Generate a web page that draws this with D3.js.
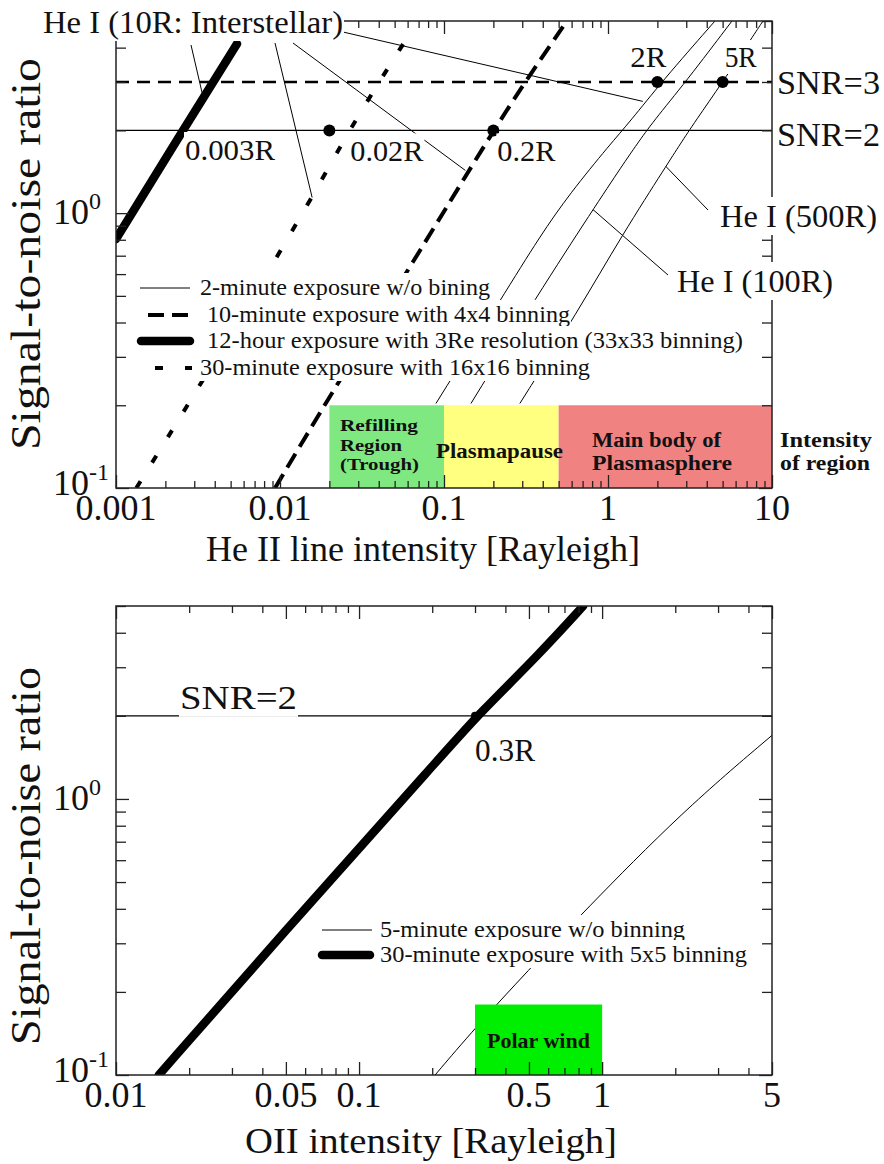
<!DOCTYPE html>
<html>
<head>
<meta charset="utf-8">
<script src="https://cdn.jsdelivr.net/npm/d3@7"></script>
<style>
  html, body { margin: 0; padding: 0; background: #fff; }
  svg { display: block; }
  text { fill: #111; }
</style>
</head>
<body>
<svg id="fig" width="884" height="1164"></svg>
<script>
// ---------------- He II panel (upper) ----------------
const heIIXDomain = [0.001, 10];
const snrDomain = [0.1, 5];
const heIIXLabelValues = [0.001, 0.01, 0.1, 1, 10];
const heIIXLabels = ["0.001", "0.01", "0.1", "1", "10"];
const snrLabelValues = [0.1, 1];
const snrLabelExponents = ["-1", "0"];

// [intensity (R), SNR]
const heII_2min_10R  = [[0.0893,0.203],[0.229,0.50],[0.385,0.825],[0.586,1.18],[1.03,1.78],[1.36,2.15],[2.13,3.01],[4.49,5.0]];
const heII_2min_100R = [[0.146,0.203],[0.369,0.50],[0.81,1.03],[1.23,1.50],[1.50,1.78],[1.88,2.15],[2.99,3.01],[5.70,5.0]];
const heII_2min_500R = [[0.29,0.203],[0.647,0.434],[1.23,0.84],[2.29,1.50],[2.75,1.78],[3.39,2.15],[5.02,3.01],[7.34,4.24],[8.81,5.0]];
const heII_10min_4x4 = [[0.00933,0.1],[0.0216,0.232],[0.0638,0.653],[0.2,2.0],[0.344,3.27],[0.562,5.0]];
const heII_12h_33x33 = [[0.001,0.805],[0.00256,2.0],[0.00547,4.13]];
const heII_30min_16x16 = [[0.00133,0.1],[0.00312,0.2265],[0.0157,1.13],[0.0259,1.98],[0.0617,4.49]];

const heIIThresholds = [3, 2];
const heIIDetections = [[0.02, 2], [0.2, 2], [2, 3], [5, 3]];
const heIIRegions = [
  { lines: ["Refilling", "Region", "(Trough)"], from: 0.02, to: 0.1, top: 0.2, color: "#80e880" },
  { lines: ["Plasmapause"], from: 0.1, to: 0.5, top: 0.2, color: "#ffff80" },
  { lines: ["Main body of", "Plasmasphere"], from: 0.5, to: 10, top: 0.2, color: "#f08282" }
];
const heIILegendLabels = [
  "2-minute exposure w/o bining",
  "10-minute exposure with 4x4 binning",
  "12-hour exposure with 3Re resolution (33x33 binning)",
  "30-minute exposure with 16x16 binning"
];

// ---------------- OII panel (lower) ----------------
const oiiXDomain = [0.01, 5];
const oiiXLabelValues = [0.01, 0.05, 0.1, 0.5, 1, 5];
const oiiXLabels = ["0.01", "0.05", "0.1", "0.5", "1", "5"];
const oii_5min = [[0.2055,0.1],[0.300,0.148],[0.496,0.239],[0.835,0.388],[2.15,0.905],[5.0,1.70]];
const oii_30min_5x5 = [[0.0150,0.1],[0.0447,0.3],[0.237,1.55],[0.306,2.0],[0.556,3.37],[0.836,5.0]];
const oiiThresholds = [2];
const oiiDetections = [[0.3, 2]];
const oiiRegions = [{ lines: ["Polar wind"], from: 0.3, to: 1.0, top: 0.18, color: "#00ee00" }];
const oiiLegendLabels = ["5-minute exposure w/o binning", "30-minute exposure with 5x5 binning"];

// ---------------- line styles ----------------
const styles = {
  thin:   { w: 1,   dash: null,   cap: "butt" },
  dashed: { w: 4,   dash: "16,8", cap: "butt" },
  thick:  { w: 8.5, dash: null,   cap: "round" },
  dotted: { w: 4,   dash: "8,22", cap: "butt" }
};

// Pick the first installed Times-like face (falls back to generic serif).
function pickFont(cands) {
  const c = document.createElement("canvas").getContext("2d");
  const s = "Signal-to-noise ratio 0123456789 Rayleigh";
  const w = f => { c.font = "40px " + f; return c.measureText(s).width; };
  const mono = w("monospace"), sans = w("sans-serif");
  for (const f of cands) {
    const a = w(`"${f}", monospace`), b = w(`"${f}", sans-serif`);
    if (Math.abs(a - b) < 0.01 && (Math.abs(a - mono) > 0.01 || Math.abs(b - sans) > 0.01)) return f;
  }
  return null;
}
const face = pickFont(["Liberation Serif", "Times New Roman", "Times", "Nimbus Roman", "Nimbus Roman No9 L", "FreeSerif", "Tinos"]);

const svg = d3.select("#fig").attr("font-family", (face ? `"${face}", ` : "") + "serif");

function addText(g, s, x, y, o = {}) {
  const t = g.append("text").attr("x", x).attr("y", y).text(s)
    .attr("font-size", o.size || 32)
    .attr("text-anchor", o.anchor || "start");
  if (o.weight) t.attr("font-weight", o.weight);
  if (o.len) t.attr("textLength", o.len).attr("lengthAdjust", "spacingAndGlyphs");
  if (o.transform) t.attr("transform", o.transform);
  if (o.bg) {
    const b = t.node().getBBox(), p = o.pad == null ? 2 : o.pad;
    g.insert("rect", () => t.node())
      .attr("x", b.x - p).attr("y", b.y - p)
      .attr("width", b.width + 2 * p).attr("height", b.height + 2 * p)
      .attr("fill", "#fff");
  }
  return t;
}

function strokeStyle(sel, st) {
  sel.attr("fill", "none").attr("stroke", "#000")
    .attr("stroke-width", st.w).attr("stroke-linecap", st.cap);
  if (st.dash) sel.attr("stroke-dasharray", st.dash);
  return sel;
}

function frameAndAxes(g, x, y, majorX, xLabelVals, xLabels) {
  const [xl, xr] = x.range(), [yb, yt] = y.range();
  const near = (a, b) => Math.abs(a / b - 1) < 1e-6;
  const xAll = x.ticks().filter(v => v >= x.domain()[0] && v <= x.domain()[1]);
  const xMajor = xAll.filter(v => majorX.some(m => near(m, v)));
  const xMinor = xAll.filter(v => !majorX.some(m => near(m, v)));
  const yAll = y.ticks();
  const yMajor = yAll.filter(v => near(v, 0.1) || near(v, 1));
  const yMinor = yAll.filter(v => !(near(v, 0.1) || near(v, 1)));

  const tickGroup = g.append("g").attr("color", "#222");
  const put = (axis, tr) => tickGroup.append("g").attr("transform", tr)
    .call(axis).call(a => a.select(".domain").remove())
    .call(a => a.selectAll("line").attr("stroke-width", 1.3));

  put(d3.axisBottom(x).tickValues(xMinor).tickSize(-7).tickFormat(""), `translate(0,${yb})`);
  put(d3.axisBottom(x).tickValues(xMajor).tickSize(-13).tickFormat(""), `translate(0,${yb})`);
  put(d3.axisTop(x).tickValues(xMinor).tickSize(-7).tickFormat(""), `translate(0,${yt})`);
  put(d3.axisTop(x).tickValues(xMajor).tickSize(-13).tickFormat(""), `translate(0,${yt})`);
  put(d3.axisLeft(y).tickValues(yMinor).tickSize(-10).tickFormat(""), `translate(${xl},0)`);
  put(d3.axisLeft(y).tickValues(yMajor).tickSize(-13).tickFormat(""), `translate(${xl},0)`);
  put(d3.axisRight(y).tickValues(yMinor).tickSize(-10).tickFormat(""), `translate(${xr},0)`);
  put(d3.axisRight(y).tickValues(yMajor).tickSize(-13).tickFormat(""), `translate(${xr},0)`);

  g.append("rect").attr("x", xl).attr("y", yt).attr("width", xr - xl).attr("height", yb - yt)
    .attr("fill", "none").attr("stroke", "#222").attr("stroke-width", 1.5);

  // tick labels
  xLabelVals.forEach((v, i) => addText(g, xLabels[i], x(v), yb + 32, { size: 36, anchor: "middle" }));
  snrLabelValues.forEach((v, i) => {
    const t = g.append("text").attr("x", 53).attr("y", y(v) + (v < 1 ? 7 : 11)).attr("font-size", 36);
    t.append("tspan").text("10");
    t.append("tspan").attr("font-size", 24).attr("dy", -15).text(snrLabelExponents[i]);
  });
}

function drawPanel(cfg) {
  const g = svg.append("g");
  const x = d3.scaleLog().domain(cfg.xDomain).range(cfg.xRange);
  const y = d3.scaleLog().domain(snrDomain).range(cfg.yRange);
  const [xl, xr] = x.range(), [yb, yt] = y.range();

  const clipId = "clip" + cfg.id;
  g.append("clipPath").attr("id", clipId).append("rect")
    .attr("x", xl).attr("y", yt).attr("width", xr - xl).attr("height", yb - yt);
  const plot = g.append("g").attr("clip-path", `url(#${clipId})`);

  // SNR threshold lines
  cfg.thresholds.forEach(s => {
    const l = plot.append("line").attr("x1", xl).attr("x2", xr).attr("y1", y(s)).attr("y2", y(s))
      .attr("stroke", "#000");
    if (s === 3) l.attr("stroke-width", 2.6).attr("stroke-dasharray", "13,8");
    else l.attr("stroke-width", 1.3);
  });

  // SNR curves
  const line = d3.line().x(d => x(d[0])).y(d => y(d[1])).curve(d3.curveBasis);
  cfg.series.forEach(s => strokeStyle(plot.append("path").attr("d", line(s.data)), styles[s.style]));

  // detection points
  cfg.detections.forEach(d => plot.append("circle").attr("cx", x(d[0])).attr("cy", y(d[1]))
    .attr("r", cfg.dotR).attr("fill", "#000"));

  // plasma regions
  cfg.regions.forEach(r => {
    g.append("rect").attr("x", x(r.from)).attr("y", y(r.top))
      .attr("width", x(r.to) - x(r.from)).attr("height", yb - y(r.top)).attr("fill", r.color);
  });

  frameAndAxes(g, x, y, cfg.majorX, cfg.xLabelVals, cfg.xLabels);

  // region captions
  cfg.regionText.forEach(t => addText(g, t.s, t.x, t.y, { size: t.size || 19, weight: "bold", len: t.len }));

  // legend
  const lg = g.append("g");
  cfg.legend.forEach(it => {
    addText(lg, it.label, it.tx, it.ty, { size: 24, len: it.len, bg: true, pad: 1 });
    strokeStyle(lg.append("line").attr("x1", it.sx[0]).attr("x2", it.sx[1])
      .attr("y1", it.ty - 7).attr("y2", it.ty - 7), styles[it.style]);
  });

  // axis titles
  addText(g, cfg.xTitle.s, cfg.xTitle.x, cfg.xTitle.y, { size: 36, len: cfg.xTitle.len });
  addText(g, "Signal-to-noise ratio", 0, 0, {
    size: 42, anchor: "middle", len: cfg.yTitle.len,
    transform: `translate(${cfg.yTitle.x},${cfg.yTitle.y}) rotate(-90)`
  });

  // leader lines and annotations
  const ann = g.append("g");
  cfg.leaders.forEach(l => ann.append("line").attr("x1", l.from[0]).attr("y1", l.from[1])
    .attr("x2", x(l.to[0])).attr("y2", y(l.to[1])).attr("stroke", "#000").attr("stroke-width", 1));
  cfg.detections.forEach((d, i) => {
    const o = cfg.detectionLabelOffsets[i];
    addText(ann, d[0] + "R", x(d[0]) + o[0], y(d[1]) + o[1], { size: o[2], len: o[3], bg: true, pad: 1 });
  });
  cfg.thresholds.forEach((s, i) => {
    const o = cfg.thresholdLabelPos[i];
    addText(ann, "SNR=" + s, o[0], y(s) + o[1], { size: 33, len: o[2], bg: true, pad: 1 });
  });
  cfg.notes.forEach(n => addText(ann, n.s, n.x, n.y, { size: n.size, len: n.len, bg: true, pad: 1 }));
}

// ---------------- upper panel ----------------
drawPanel({
  id: "heII",
  xDomain: heIIXDomain, xRange: [116, 772], yRange: [488, 21],
  majorX: heIIXLabelValues, xLabelVals: heIIXLabelValues, xLabels: heIIXLabels,
  thresholds: heIIThresholds,
  series: [
    { data: heII_2min_10R, style: "thin" },
    { data: heII_2min_100R, style: "thin" },
    { data: heII_2min_500R, style: "thin" },
    { data: heII_10min_4x4, style: "dashed" },
    { data: heII_12h_33x33, style: "thick" },
    { data: heII_30min_16x16, style: "dotted" }
  ],
  detections: heIIDetections, dotR: 6,
  detectionLabelOffsets: [[21, 31, 30, 73], [4, 31, 30, 58], [-27, -15, 29, 36], [2, -15, 29, 32]],
  regions: heIIRegions,
  regionText: [
    { s: heIIRegions[0].lines[0], x: 340, y: 431, len: 78, size: 17.5 },
    { s: heIIRegions[0].lines[1], x: 340, y: 450.5, len: 62, size: 17.5 },
    { s: heIIRegions[0].lines[2], x: 340, y: 470, len: 79, size: 17.5 },
    { s: heIIRegions[1].lines[0], x: 436, y: 458, len: 127, size: 20 },
    { s: heIIRegions[2].lines[0], x: 592, y: 447, len: 129, size: 20 },
    { s: heIIRegions[2].lines[1], x: 592, y: 470, len: 140, size: 20 },
    { s: "Intensity", x: 780, y: 447, len: 92, size: 20 },
    { s: "of region", x: 780, y: 470, len: 90, size: 20 }
  ],
  legend: [
    { label: heIILegendLabels[0], style: "thin",   sx: [140, 190], tx: 200, ty: 295, len: 290 },
    { label: heIILegendLabels[1], style: "dashed", sx: [148, 192], tx: 207, ty: 322, len: 363 },
    { label: heIILegendLabels[2], style: "thick",  sx: [141, 190], tx: 207, ty: 348, len: 536 },
    { label: heIILegendLabels[3], style: "dotted", sx: [155, 192], tx: 200, ty: 375, len: 390 }
  ],
  xTitle: { s: "He II line intensity [Rayleigh]", x: 206, y: 561, len: 434 },
  yTitle: { x: 40, y: 254, len: 392 },
  thresholdLabelPos: [[777, 12, 103], [777, 16, 103]],
  leaders: [
    { from: [191, 45], to: [0.00335, 2.74] },
    { from: [275, 43], to: [0.0157, 1.14] },
    { from: [293, 43], to: [0.135, 1.43] },
    { from: [343, 32], to: [1.63, 2.55] },
    { from: [708, 210], to: [2.25, 1.48] },
    { from: [668, 275], to: [0.81, 1.03] }
  ],
  notes: [
    { s: "He I (10R: Interstellar)", x: 43, y: 33, size: 32, len: 300 },
    { s: "0.003R", x: 185, y: 160, size: 30, len: 90 },
    { s: "He I (500R)", x: 720, y: 227, size: 32, len: 157 },
    { s: "He I (100R)", x: 677, y: 292, size: 32, len: 156 }
  ]
});

// ---------------- lower panel ----------------
drawPanel({
  id: "oii",
  xDomain: oiiXDomain, xRange: [116, 772], yRange: [1075, 606],
  majorX: oiiXLabelValues, xLabelVals: oiiXLabelValues, xLabels: oiiXLabels,
  thresholds: oiiThresholds,
  series: [
    { data: oii_5min, style: "thin" },
    { data: oii_30min_5x5, style: "thick" }
  ],
  detections: oiiDetections, dotR: 4,
  detectionLabelOffsets: [[0, 45, 31, 60]],
  regions: oiiRegions,
  regionText: [{ s: oiiRegions[0].lines[0], x: 487, y: 1048, len: 103, size: 20 }],
  legend: [
    { label: oiiLegendLabels[0], style: "thin",  sx: [322, 372], tx: 380, ty: 937, len: 305 },
    { label: oiiLegendLabels[1], style: "thick", sx: [322, 370], tx: 380, ty: 962, len: 367 }
  ],
  xTitle: { s: "OII intensity [Rayleigh]", x: 245, y: 1153, len: 372 },
  yTitle: { x: 40, y: 856, len: 378 },
  thresholdLabelPos: [[180, -7, 117]],
  leaders: [],
  notes: []
});
</script>
</body>
</html>
